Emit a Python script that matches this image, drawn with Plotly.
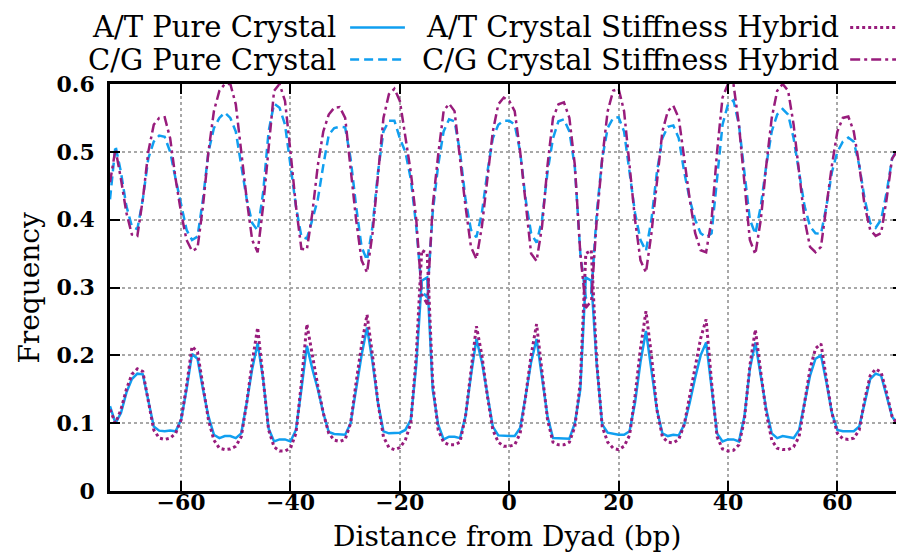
import plotly.graph_objects as go

# Distance from dyad (bp)
positions = list(range(-73, 73))

at_pure = [
    0.125, 0.100, 0.115, 0.145, 0.165, 0.173, 0.172, 0.135, 0.095, 0.089,
    0.088, 0.089, 0.088, 0.105, 0.150, 0.202, 0.195, 0.150, 0.110, 0.083,
    0.078, 0.081, 0.081, 0.078, 0.085, 0.130, 0.180, 0.218, 0.165, 0.092,
    0.073, 0.076, 0.076, 0.073, 0.090, 0.150, 0.214, 0.180, 0.150, 0.115,
    0.087, 0.084, 0.084, 0.083, 0.100, 0.150, 0.200, 0.241, 0.190, 0.130,
    0.088, 0.085, 0.085, 0.086, 0.090, 0.105, 0.186, 0.310, 0.315, 0.150,
    0.098, 0.076, 0.080, 0.080, 0.078, 0.110, 0.170, 0.224, 0.190, 0.140,
    0.095, 0.082, 0.081, 0.081, 0.081, 0.093, 0.140, 0.190, 0.224, 0.170,
    0.110, 0.078, 0.078, 0.077, 0.077, 0.100, 0.150, 0.315, 0.310, 0.186,
    0.098, 0.086, 0.084, 0.083, 0.083, 0.088, 0.130, 0.190, 0.236, 0.180,
    0.120, 0.085, 0.081, 0.083, 0.082, 0.098, 0.130, 0.167, 0.200, 0.219,
    0.150, 0.085, 0.073, 0.076, 0.076, 0.073, 0.110, 0.180, 0.219, 0.170,
    0.120, 0.085, 0.078, 0.081, 0.080, 0.078, 0.090, 0.130, 0.170, 0.195,
    0.200, 0.160, 0.115, 0.090, 0.088, 0.088, 0.088, 0.095, 0.130, 0.165,
    0.173, 0.170, 0.140, 0.110, 0.098, 0.125,
]

at_hybrid = [
    0.120, 0.100, 0.120, 0.150, 0.172, 0.180, 0.176, 0.135, 0.090, 0.078,
    0.076, 0.078, 0.085, 0.105, 0.155, 0.213, 0.205, 0.155, 0.105, 0.075,
    0.063, 0.061, 0.062, 0.066, 0.080, 0.130, 0.190, 0.241, 0.170, 0.090,
    0.065, 0.059, 0.059, 0.063, 0.085, 0.160, 0.246, 0.200, 0.155, 0.115,
    0.085, 0.075, 0.073, 0.076, 0.100, 0.160, 0.215, 0.260, 0.200, 0.130,
    0.080, 0.064, 0.061, 0.064, 0.075, 0.100, 0.200, 0.355, 0.350, 0.160,
    0.090, 0.072, 0.068, 0.068, 0.072, 0.110, 0.180, 0.243, 0.200, 0.140,
    0.090, 0.072, 0.066, 0.066, 0.068, 0.085, 0.140, 0.200, 0.246, 0.180,
    0.105, 0.072, 0.068, 0.068, 0.072, 0.095, 0.160, 0.350, 0.355, 0.190,
    0.095, 0.072, 0.063, 0.061, 0.066, 0.082, 0.140, 0.210, 0.265, 0.200,
    0.120, 0.080, 0.072, 0.071, 0.076, 0.098, 0.140, 0.180, 0.225, 0.253,
    0.160, 0.080, 0.062, 0.059, 0.060, 0.068, 0.105, 0.185, 0.238, 0.175,
    0.115, 0.075, 0.063, 0.061, 0.061, 0.065, 0.080, 0.130, 0.180, 0.210,
    0.217, 0.165, 0.115, 0.085, 0.077, 0.076, 0.078, 0.090, 0.135, 0.170,
    0.180, 0.175, 0.145, 0.110, 0.098, 0.120,
]

cg_pure = [
    0.430, 0.509, 0.470, 0.420, 0.390, 0.386, 0.430, 0.490, 0.515, 0.524,
    0.522, 0.500, 0.460, 0.420, 0.385, 0.370, 0.375, 0.430, 0.500, 0.535,
    0.550, 0.558, 0.550, 0.530, 0.480, 0.430, 0.395, 0.384, 0.440, 0.530,
    0.571, 0.565, 0.540, 0.480, 0.420, 0.375, 0.372, 0.400, 0.430, 0.480,
    0.525, 0.535, 0.537, 0.536, 0.490, 0.420, 0.360, 0.340, 0.390, 0.470,
    0.530, 0.546, 0.546, 0.520, 0.500, 0.460, 0.390, 0.295, 0.285, 0.410,
    0.480, 0.530, 0.548, 0.545, 0.500, 0.430, 0.385, 0.374, 0.410, 0.470,
    0.520, 0.540, 0.546, 0.546, 0.540, 0.500, 0.430, 0.380, 0.366, 0.400,
    0.470, 0.520, 0.545, 0.548, 0.530, 0.477, 0.350, 0.285, 0.290, 0.410,
    0.490, 0.535, 0.550, 0.551, 0.530, 0.470, 0.410, 0.370, 0.354, 0.400,
    0.470, 0.520, 0.537, 0.539, 0.520, 0.470, 0.430, 0.400, 0.380, 0.374,
    0.380, 0.460, 0.540, 0.570, 0.576, 0.540, 0.470, 0.400, 0.379, 0.420,
    0.480, 0.530, 0.555, 0.563, 0.555, 0.520, 0.470, 0.420, 0.390, 0.380,
    0.379, 0.420, 0.470, 0.500, 0.515, 0.521, 0.515, 0.480, 0.430, 0.395,
    0.388, 0.400, 0.440, 0.490, 0.505, 0.430,
]

cg_hybrid = [
    0.455, 0.504, 0.460, 0.410, 0.378, 0.376, 0.430, 0.500, 0.540, 0.550,
    0.551, 0.520, 0.460, 0.410, 0.370, 0.354, 0.358, 0.420, 0.500, 0.560,
    0.590, 0.600, 0.600, 0.570, 0.500, 0.430, 0.370, 0.352, 0.420, 0.510,
    0.590, 0.600, 0.575, 0.500, 0.420, 0.357, 0.356, 0.410, 0.480, 0.530,
    0.555, 0.565, 0.566, 0.550, 0.470, 0.400, 0.340, 0.322, 0.380, 0.470,
    0.550, 0.585, 0.593, 0.575, 0.525, 0.470, 0.400, 0.290, 0.275, 0.420,
    0.495, 0.560, 0.571, 0.560, 0.490, 0.420, 0.360, 0.342, 0.390, 0.460,
    0.530, 0.570, 0.580, 0.575, 0.560, 0.500, 0.420, 0.350, 0.339, 0.390,
    0.480, 0.550, 0.570, 0.573, 0.550, 0.480, 0.350, 0.270, 0.280, 0.400,
    0.490, 0.560, 0.590, 0.593, 0.560, 0.480, 0.400, 0.340, 0.322, 0.380,
    0.460, 0.530, 0.560, 0.568, 0.550, 0.490, 0.430, 0.380, 0.355, 0.352,
    0.400, 0.500, 0.580, 0.600, 0.600, 0.540, 0.450, 0.370, 0.349, 0.400,
    0.480, 0.550, 0.590, 0.600, 0.590, 0.540, 0.470, 0.400, 0.360, 0.352,
    0.360, 0.420, 0.480, 0.530, 0.550, 0.552, 0.530, 0.480, 0.420, 0.385,
    0.376, 0.380, 0.430, 0.490, 0.502, 0.430,
]

x_ticks = [-60, -40, -20, 0, 20, 40, 60]
y_ticks = [0, 0.1, 0.2, 0.3, 0.4, 0.5, 0.6]
y_tick_text = ["0", "0.1", "0.2", "0.3", "0.4", "0.5", "0.6"]

BLUE = "#109ff0"
PURPLE = "#981c7c"
FONT = "DejaVu Serif"

series = [
    ("A/T Pure Crystal", at_pure, BLUE, "solid", 2.5),
    ("C/G Pure Crystal", cg_pure, BLUE, "9px,5px", 2.5),
    ("A/T Crystal Stiffness Hybrid", at_hybrid, PURPLE, "3px,3px", 3),
    ("C/G Crystal Stiffness Hybrid", cg_hybrid, PURPLE, "10px,4px,3px,4px", 2.5),
]

fig = go.Figure()
for name, vals, col, dash, w in series:
    fig.add_trace(go.Scatter(
        x=positions, y=vals, mode="lines", name=name,
        line=dict(color=col, dash=dash, width=w), showlegend=False,
    ))

# gnuplot-style key: text right-aligned, sample to the right
key_rows = [
    (0, 1.139, "A/T Pure Crystal", BLUE, "solid", 2.5),
    (1, 1.139, "A/T Crystal Stiffness Hybrid", PURPLE, "3px,3px", 3),
    (0, 1.060, "C/G Pure Crystal", BLUE, "9px,5px", 2.5),
    (1, 1.060, "C/G Crystal Stiffness Hybrid", PURPLE, "10px,4px,3px,4px", 2.5),
]
text_right = [0.2877, 0.9221]
sample_x = [(0.3028, 0.3719), (0.9334, 1.0080)]
for col_i, yk, label, col, dash, w in key_rows:
    fig.add_annotation(
        x=text_right[col_i], y=yk, xref="paper", yref="paper",
        text=label, showarrow=False, xanchor="right", yanchor="middle",
        font=dict(family=FONT, size=29, color="black"),
    )
    fig.add_shape(
        type="line", xref="paper", yref="paper",
        x0=sample_x[col_i][0], x1=sample_x[col_i][1], y0=yk, y1=yk,
        line=dict(color=col, dash=dash, width=w),
    )

# axis titles
fig.add_annotation(
    x=0.5, y=-0.111, xref="paper", yref="paper",
    text="Distance from Dyad (bp)", showarrow=False,
    xanchor="center", yanchor="middle",
    font=dict(family=FONT, size=28, color="black"),
)
fig.add_annotation(
    x=-0.102, y=0.5, xref="paper", yref="paper",
    text="Frequency", showarrow=False, textangle=-90,
    xanchor="center", yanchor="middle",
    font=dict(family=FONT, size=28, color="black"),
)

axis_common = dict(
    showline=True, linecolor="black", linewidth=2.5, mirror="ticks",
    ticks="inside", ticklen=10, tickwidth=2, tickcolor="black",
    showgrid=True, gridcolor="#a8a8a8", griddash="dot", gridwidth=1.5,
    zeroline=False,
)

fig.update_xaxes(
    range=[-73, 72], tickvals=x_ticks,
    tickfont=dict(family=FONT, size=22, color="black", weight="bold"),
    ticklabelstandoff=-10,
    **axis_common,
)
fig.update_yaxes(
    range=[0, 0.6], tickvals=y_ticks, ticktext=y_tick_text,
    tickfont=dict(family=FONT, size=22, color="black", weight="bold"),
    ticklabelstandoff=8,
    **axis_common,
)

fig.update_layout(
    width=904, height=553,
    margin=dict(l=102, r=6, t=76, b=70),
    plot_bgcolor="white", paper_bgcolor="white",
)

fig.write_html("out.html")
